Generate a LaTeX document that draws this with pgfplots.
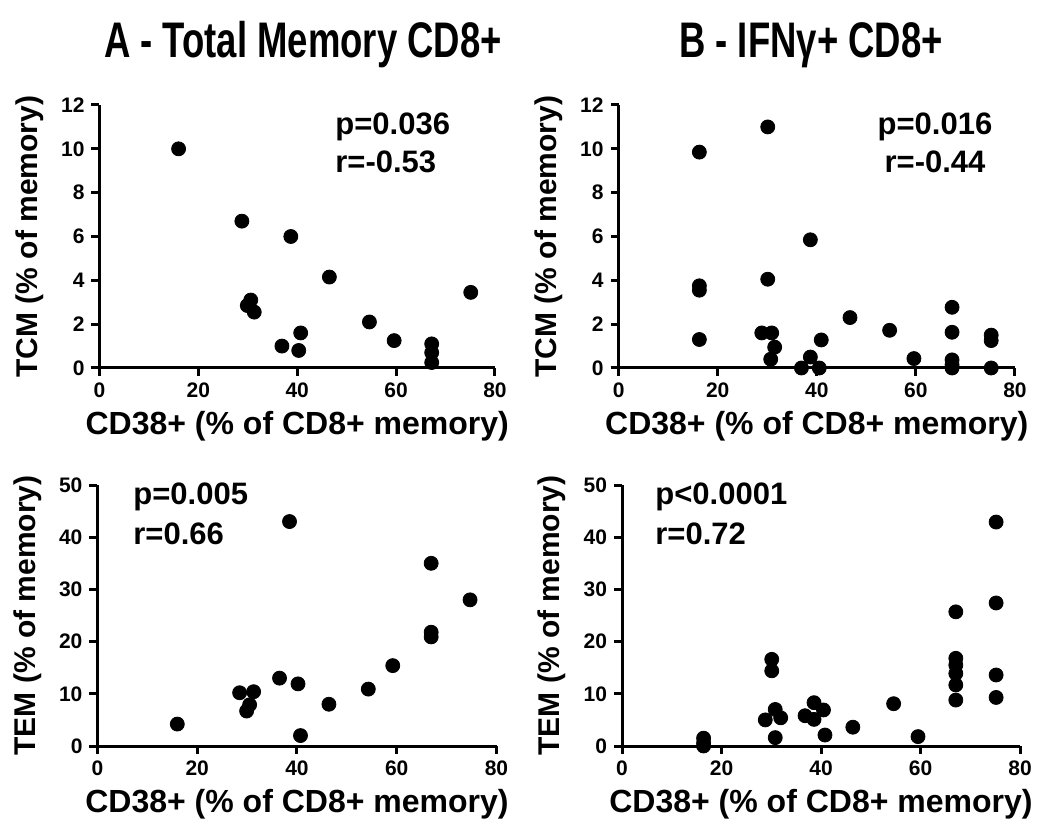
\documentclass[border=0pt]{standalone}
\usepackage{fontspec}
\setmainfont{Liberation Sans}
\usepackage{graphicx}
\usepackage{pgfplots}
\pgfplotsset{compat=1.18}

\pgfplotsset{
  panel/.style={
    scale only axis,
    axis x line=bottom, axis y line=left,
    axis line style={line width=1.5pt,-},
    tick style={line width=1.5pt,black},
    major tick length=4pt, tick align=outside,
    xmin=0, xmax=80, xtick={0,20,40,60,80},
    clip=false,
    /pgf/number format/assume math mode=true,
    ticklabel style={font=\fontsize{10.5}{12}\selectfont\bfseries},
    xlabel={CD38+ (\% of CD8+ memory)},
    xlabel style={font=\fontsize{16}{18}\selectfont\bfseries},
    ylabel style={font=\fontsize{15}{17}\selectfont\bfseries, yshift=2pt},
  },
  dots/.style={only marks, mark=*, mark size=3.5pt, black, mark options={fill=black}},
}
\newcommand{\stat}{\fontsize{15.5}{17}\selectfont\bfseries}

\begin{document}
\begin{tikzpicture}
\useasboundingbox (0,0) rectangle (525pt,418pt);

% A - TCM
\begin{axis}[panel, at={(49.75pt,234pt)}, anchor=south west,
  width=197.75pt, height=131.5pt,
  ymin=0, ymax=12, ytick={0,2,...,12},
  ylabel={TCM (\% of memory)}]
\addplot[dots] coordinates {
  (16,10.0) (28.8,6.7) (29.9,2.85) (30.6,3.1) (31.3,2.55) (36.9,1.0)
  (38.7,6.0) (40.3,0.8) (40.7,1.6) (46.5,4.15) (54.6,2.1) (59.6,1.25)
  (67.2,1.1) (67.2,0.7) (67.2,0.25) (75.1,3.45)
};
\end{axis}

% B - TCM
\begin{axis}[panel, at={(309.3pt,234pt)}, anchor=south west,
  width=198.2pt, height=131.5pt,
  ymin=0, ymax=12, ytick={0,2,...,12},
  ylabel={TCM (\% of memory)}]
\addplot[dots] coordinates {
  (16.3,9.85) (16.3,3.75) (16.3,3.55) (16.3,1.3) (30.1,11.0) (30.1,4.05)
  (28.9,1.6) (30.9,1.6) (31.5,0.95) (30.7,0.4) (36.9,0) (38.7,0.5)
  (38.7,5.85) (40.5,0) (40.9,1.28) (46.7,2.3) (54.7,1.72) (59.6,0.43)
  (67.3,2.77) (67.3,1.63) (67.3,0.37) (67.3,0.15) (67.3,0)
  (75.2,1.5) (75.2,1.25) (75.2,0)
};
\end{axis}

% A - TEM
\begin{axis}[panel, at={(48.75pt,45pt)}, anchor=south west,
  width=199.5pt, height=130.5pt,
  ymin=0, ymax=50, ytick={0,10,...,50},
  ylabel={TEM (\% of memory)}]
\addplot[dots] coordinates {
  (16,4.2) (28.5,10.2) (29.9,6.7) (30.5,7.9) (31.3,10.4) (36.5,13.0)
  (38.5,43.0) (40.2,11.9) (40.7,2.0) (46.4,8.0) (54.3,10.9) (59.2,15.4)
  (66.9,35.0) (66.9,21.8) (66.9,20.9) (74.7,28.0)
};
\end{axis}

% B - TEM
\begin{axis}[panel, at={(311pt,45pt)}, anchor=south west,
  width=199pt, height=130.5pt,
  ymin=0, ymax=50, ytick={0,10,...,50},
  ylabel={TEM (\% of memory)}]
\addplot[dots] coordinates {
  (16.4,1.5) (16.4,0.6) (16.4,0) (30.1,16.6) (30.1,14.4) (28.8,5.0)
  (30.8,7.0) (31.9,5.4) (30.8,1.6) (36.8,5.8) (38.6,8.3) (38.6,5.1)
  (40.5,6.9) (40.8,2.1) (46.4,3.6) (54.6,8.1) (59.5,1.8)
  (67.1,25.7) (67.1,16.8) (67.1,15.5) (67.1,13.9) (67.1,11.7) (67.1,8.8)
  (75.2,42.9) (75.2,27.4) (75.2,13.6) (75.2,9.3)
};
\end{axis}

% titles
\node[anchor=base] at (151.5pt,389pt)
  {\fontsize{25}{28}\selectfont\bfseries\scalebox{0.73}[1]{A - Total Memory CD8+}};
\node[anchor=base] at (405.5pt,389pt)
  {\fontsize{25}{28}\selectfont\bfseries\scalebox{0.73}[1]{B - IFNγ+ CD8+}};

% statistics
\node[anchor=base west, inner sep=0pt] at (167.5pt,350.5pt) {\stat p=0.036};
\node[anchor=base west, inner sep=0pt] at (167.5pt,331.5pt) {\stat r=-0.53};
\node[anchor=base, inner sep=0pt] at (467.5pt,350.5pt) {\stat p=0.016};
\node[anchor=base, inner sep=0pt] at (467.5pt,331.5pt) {\stat r=-0.44};
\node[anchor=base west, inner sep=0pt] at (66.5pt,165.5pt) {\stat p=0.005};
\node[anchor=base west, inner sep=0pt] at (66.5pt,145.5pt) {\stat r=0.66};
\node[anchor=base west, inner sep=0pt] at (327.5pt,165.5pt) {\stat p<0.0001};
\node[anchor=base west, inner sep=0pt] at (327.5pt,145.5pt) {\stat r=0.72};
\end{tikzpicture}
\end{document}
